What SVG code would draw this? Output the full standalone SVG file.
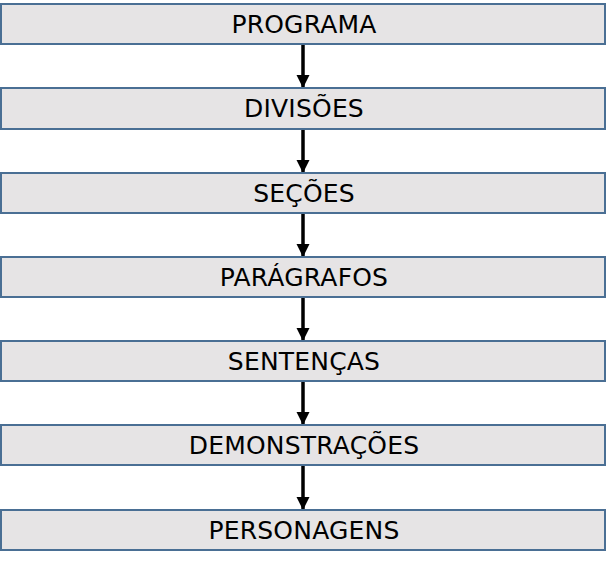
<svg xmlns="http://www.w3.org/2000/svg" width="607" height="561" viewBox="0 0 607 561">
<defs>
<style>
.box{fill:#E6E4E5;stroke:#4A6F94;stroke-width:2}
.lbl{font-family:"DejaVu Sans",Verdana,sans-serif;font-size:25px;letter-spacing:0.2px;fill:#000;text-anchor:middle}
.con{stroke:#000;stroke-width:3.5;fill:none;marker-end:url(#ah)}
</style>
<marker id="ah" markerUnits="userSpaceOnUse" markerWidth="13" markerHeight="14" refX="13" refY="6.5" orient="auto" viewBox="0 0 13 13">
<path d="M0,0 L13,6.5 L0,13 z" fill="#000"/>
</marker>
</defs>
<rect width="607" height="561" fill="#fff"/>
<g id="connectors">
<line class="con" x1="303" y1="44" x2="303" y2="88"/>
<line class="con" x1="303" y1="129" x2="303" y2="173"/>
<line class="con" x1="303" y1="213" x2="303" y2="257"/>
<line class="con" x1="303" y1="297" x2="303" y2="341"/>
<line class="con" x1="303" y1="381" x2="303" y2="425"/>
<line class="con" x1="303" y1="465" x2="303" y2="510"/>
</g>
<g id="n1"><rect class="box" x="1" y="4" width="604" height="40"/><text class="lbl" x="304" y="33">PROGRAMA</text></g>
<g id="n2"><rect class="box" x="1" y="88" width="604" height="41"/><text class="lbl" x="304" y="117">DIVISÕES</text></g>
<g id="n3"><rect class="box" x="1" y="173" width="604" height="40"/><text class="lbl" x="304" y="202">SEÇÕES</text></g>
<g id="n4"><rect class="box" x="1" y="257" width="604" height="40"/><text class="lbl" x="304" y="286">PARÁGRAFOS</text></g>
<g id="n5"><rect class="box" x="1" y="341" width="604" height="40"/><text class="lbl" x="304" y="370">SENTENÇAS</text></g>
<g id="n6"><rect class="box" x="1" y="425" width="604" height="40"/><text class="lbl" x="304" y="454">DEMONSTRAÇÕES</text></g>
<g id="n7"><rect class="box" x="1" y="510" width="604" height="40"/><text class="lbl" x="304" y="539">PERSONAGENS</text></g>
</svg>
